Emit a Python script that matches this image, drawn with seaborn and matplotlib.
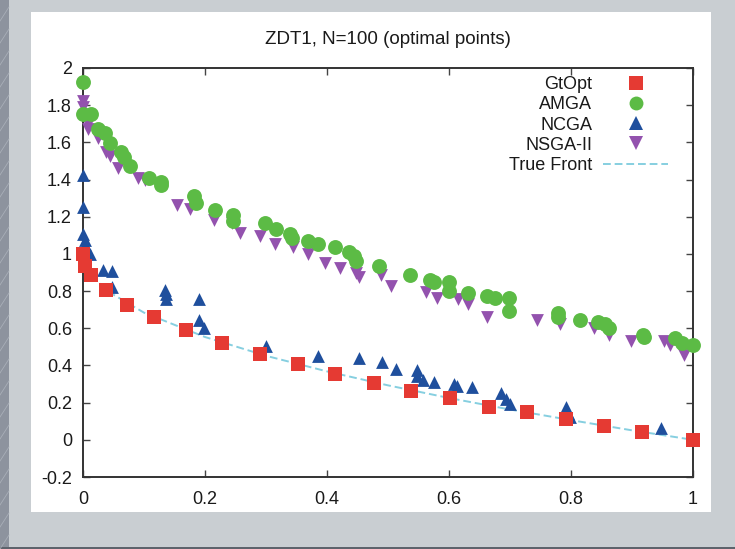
import numpy as np
import pandas as pd
import matplotlib
matplotlib.use("Agg")
import matplotlib.pyplot as plt
import seaborn as sns
from matplotlib.lines import Line2D
from matplotlib.patches import Rectangle

# ---------------- data ----------------
gtopt_x = [0.0, 0.004, 0.013, 0.038, 0.072, 0.117, 0.169, 0.228, 0.29, 0.352, 0.413,
           0.477, 0.538, 0.602, 0.665, 0.728, 0.792, 0.854, 0.917, 1.0]
gtopt_y = [1.0, 0.934, 0.887, 0.806, 0.726, 0.66, 0.591, 0.523, 0.462, 0.406, 0.355,
           0.308, 0.264, 0.226, 0.179, 0.151, 0.113, 0.075, 0.043, 0.0]

amga_x = [0.0, 0.0, 0.013, 0.025, 0.036, 0.044, 0.063, 0.067, 0.077, 0.108, 0.128, 0.128,
          0.182, 0.186, 0.217, 0.246, 0.246, 0.298, 0.317, 0.34, 0.342, 0.369, 0.386,
          0.413, 0.436, 0.444, 0.448, 0.485, 0.536, 0.569, 0.575, 0.6, 0.6, 0.631,
          0.663, 0.675, 0.698, 0.698, 0.778, 0.778, 0.815, 0.844, 0.855, 0.862, 0.918,
          0.92, 0.971, 0.982, 1.0]
amga_y = [1.925, 1.755, 1.755, 1.67, 1.65, 1.594, 1.547, 1.519, 1.472, 1.409, 1.387, 1.368,
          1.311, 1.274, 1.236, 1.208, 1.179, 1.164, 1.132, 1.108, 1.085, 1.07, 1.053,
          1.038, 1.009, 0.991, 0.962, 0.934, 0.887, 0.858, 0.849, 0.849, 0.802, 0.792,
          0.774, 0.764, 0.764, 0.692, 0.683, 0.66, 0.647, 0.636, 0.623, 0.604, 0.566,
          0.553, 0.547, 0.523, 0.509]

ncga_x = [0.0, 0.0, 0.0, 0.004, 0.004, 0.012, 0.032, 0.048, 0.048, 0.134, 0.136, 0.136,
          0.19, 0.19, 0.198, 0.3, 0.386, 0.452, 0.49, 0.513, 0.548, 0.548, 0.558, 0.575,
          0.609, 0.613, 0.638, 0.685, 0.694, 0.7, 0.792, 0.795, 0.798, 0.948]
ncga_y = [1.425, 1.255, 1.108, 1.075, 1.047, 1.0, 0.915, 0.906, 0.821, 0.806, 0.783, 0.755,
          0.755, 0.647, 0.604, 0.504, 0.453, 0.44, 0.421, 0.383, 0.377, 0.345, 0.321, 0.311,
          0.302, 0.292, 0.283, 0.251, 0.221, 0.194, 0.175, 0.145, 0.123, 0.066]

nsga_x = [0.0, 0.0, 0.004, 0.008, 0.008, 0.025, 0.038, 0.044, 0.058, 0.09, 0.102, 0.154,
          0.175, 0.215, 0.244, 0.257, 0.29, 0.315, 0.344, 0.369, 0.396, 0.421, 0.448,
          0.452, 0.488, 0.505, 0.562, 0.581, 0.615, 0.631, 0.662, 0.744, 0.782, 0.838,
          0.863, 0.898, 0.952, 0.963, 0.986]
nsga_y = [1.821, 1.792, 1.745, 1.698, 1.67, 1.626, 1.547, 1.528, 1.462, 1.406, 1.396, 1.264,
          1.24, 1.183, 1.164, 1.113, 1.094, 1.051, 1.038, 1.0, 0.953, 0.925, 0.9, 0.877,
          0.887, 0.825, 0.796, 0.764, 0.758, 0.73, 0.66, 0.647, 0.623, 0.604, 0.562,
          0.534, 0.534, 0.509, 0.458]

front_x = [0.0, 0.01, 0.04, 0.1, 0.2, 0.3, 0.4, 0.5, 0.6, 0.7, 0.8, 0.9, 1.0]
front_y = [1.0, 0.9, 0.8, 0.684, 0.553, 0.452, 0.368, 0.293, 0.225, 0.163, 0.106, 0.051, 0.0]

series_names = ["GtOpt", "AMGA", "NCGA", "NSGA-II"]
x_ticks = [0, 0.2, 0.4, 0.6, 0.8, 1]
x_tick_labels = ["0", "0.2", "0.4", "0.6", "0.8", "1"]
y_ticks = [-0.2, 0, 0.2, 0.4, 0.6, 0.8, 1, 1.2, 1.4, 1.6, 1.8, 2]
y_tick_labels = ["-0.2", "0", "0.2", "0.4", "0.6", "0.8", "1", "1.2", "1.4", "1.6", "1.8", "2"]
title = "ZDT1, N=100 (optimal points)"

# ---------------- styling ----------------
plt.rcParams['font.family'] = ['Liberation Sans', 'DejaVu Sans']
colors = {"GtOpt": "#e53a33", "AMGA": "#5cbb45", "NCGA": "#1f4f9d", "NSGA-II": "#9352ae"}
markers = {"GtOpt": "s", "AMGA": "o", "NCGA": "^", "NSGA-II": "v"}
sizes = {"GtOpt": 105, "AMGA": 115, "NCGA": 85, "NSGA-II": 85}
front_color = "#86cfe0"

W, H = 735, 549
fig = plt.figure(figsize=(W / 100, H / 100), dpi=100, facecolor="#c9ced2")

# decorative background pieces
fig.patches.append(Rectangle((0, 0), 9 / W, 1, transform=fig.transFigure,
                             facecolor="#8d939e", edgecolor="none", zorder=0))
for k in range(-2, 30):
    y0 = k * 22 / H
    fig.lines.append(Line2D([0, 9 / W], [y0, y0 + 14 / H], transform=fig.transFigure,
                            color="#a9afb8", lw=0.6, zorder=0.5))
fig.patches.append(Rectangle((0, 0), 1, 2 / H, transform=fig.transFigure,
                             facecolor="#5d636c", edgecolor="none", zorder=0))
fig.patches.append(Rectangle((31 / W, 1 - 512 / H), (711 - 31) / W, (512 - 12) / H,
                             transform=fig.transFigure, facecolor="white",
                             edgecolor="none", zorder=1))

ax_left, ax_right, ax_top, ax_bottom = 83, 693, 68, 477
ax = fig.add_axes([ax_left / W, 1 - ax_bottom / H, (ax_right - ax_left) / W,
                   (ax_bottom - ax_top) / H])
ax.set_zorder(2)
ax.set_facecolor("white")

frames = {
    "GtOpt": pd.DataFrame({"x": gtopt_x, "y": gtopt_y}),
    "AMGA": pd.DataFrame({"x": amga_x, "y": amga_y}),
    "NCGA": pd.DataFrame({"x": ncga_x, "y": ncga_y}),
    "NSGA-II": pd.DataFrame({"x": nsga_x, "y": nsga_y}),
}

sns.lineplot(x=front_x, y=front_y, ax=ax, color=front_color, lw=1.4,
             linestyle=(0, (4, 2)), zorder=1, sort=False, legend=False)
for name in ["NSGA-II", "AMGA", "NCGA", "GtOpt"]:
    df = frames[name]
    sns.scatterplot(data=df, x="x", y="y", ax=ax, color=colors[name],
                    marker=markers[name], s=sizes[name], linewidth=0,
                    zorder=3, legend=False, clip_on=False)

ax.set_xlim(0, 1)
ax.set_ylim(-0.2, 2)
ax.set_xticks(x_ticks)
ax.set_xticklabels(x_tick_labels)
ax.set_yticks(y_ticks)
ax.set_yticklabels(y_tick_labels)
ax.set_xlabel("")
ax.set_ylabel("")
ax.tick_params(direction="in", length=5, width=1.0, color="#444444",
               top=True, right=True, labelsize=13, labelcolor="#1a1a1a")
ax.tick_params(axis="x", pad=10)
ax.tick_params(axis="y", pad=8)
for sp in ax.spines.values():
    sp.set_color("#333333")
    sp.set_linewidth(1.4)

ax.set_title(title, fontsize=13.5, color="#1a1a1a", pad=17)

handles = []
for name in series_names:
    handles.append(Line2D([], [], linestyle="none", marker=markers[name],
                          markersize=10, markerfacecolor=colors[name],
                          markeredgewidth=0, label=name))
handles.append(Line2D([], [], color=front_color, lw=1.4, linestyle=(0, (4, 2)),
                      label="True Front"))
leg = ax.legend(handles=handles, loc="upper right",
                bbox_to_anchor=((668 - ax_left) / (ax_right - ax_left), (ax_bottom - 76) / (ax_bottom - ax_top)),
                markerfirst=False, frameon=False, fontsize=13, borderpad=0,
                handlelength=3.6, handletextpad=0.6, labelspacing=0.18,
                borderaxespad=0)
for t in leg.get_texts():
    t.set_color("#1a1a1a")

fig.savefig("out.png", dpi=100, facecolor=fig.get_facecolor())
